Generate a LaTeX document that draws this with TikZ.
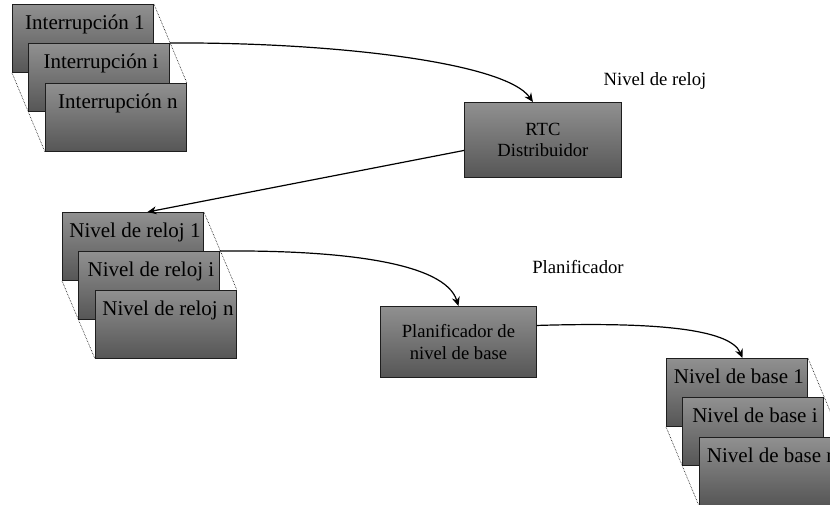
\documentclass[tikz,border=0pt]{standalone}
\usepackage{fontspec}
\setmainfont{Liberation Serif}
\usetikzlibrary{arrows.meta}

\definecolor{boxtop}{RGB}{144,144,144}
\definecolor{boxbot}{RGB}{86,86,86}
\definecolor{boxline}{RGB}{30,30,30}

\tikzset{
  graybox/.style={draw=boxline, line width=0.9pt, top color=boxtop, bottom color=boxbot,
    anchor=north west, inner sep=0pt},
  stackbox/.style={graybox, minimum width=141pt, minimum height=68pt},
  stacktext/.style={anchor=base, inner sep=0pt, font=\fontsize{21}{25}\selectfont},
  boxtext/.style={align=center, inner sep=0pt, font=\fontsize{18.6}{21.5}\selectfont},
  lvltext/.style={inner sep=0pt, font=\fontsize{18.7}{22}\selectfont},
  flow/.style={line width=1.2pt, -{Stealth[length=9pt,width=8pt,inset=3pt]}},
  edge/.style={densely dotted, line width=0.6pt},
}

% one card of a stack: gradient box plus its caption, clipped to the box
\newcommand{\stackcard}[4]{%
  \node[stackbox] (#1) at (#2,#3) {};
  \begin{scope}
    \clip (#1.south west) rectangle (#1.north east);
    \node[stacktext] (#1t) at ([xshift=2pt,yshift=-25pt]#1.north) {#4};
  \end{scope}}

\begin{document}
\begin{tikzpicture}[x=1pt,y=-1pt]
\useasboundingbox (0,0) rectangle (830,504);
\clip (0,0) rectangle (830,504);

% interrupt stack
\stackcard{i1}{12}{4}{Interrupción 1}
\stackcard{i2}{28}{43}{Interrupción i}
\stackcard{i3}{45}{83}{Interrupción n}
\draw[edge] (i1.south west) -- (i3.south west);
\draw[edge] (i1.north east) -- (i3.north east);

% clock-level dispatcher
\node[graybox, minimum width=157pt, minimum height=75pt, boxtext] (rtc) at (464,102)
  {RTC\\Distribuidor};
\node[lvltext] (lclk) at (655,81) {Nivel de reloj};

% clock-level stack
\stackcard{r1}{62}{212}{Nivel de reloj 1}
\stackcard{r2}{78}{251}{Nivel de reloj i}
\stackcard{r3}{95}{290}{Nivel de reloj n}
\draw[edge] (r1.south west) -- (r3.south west);
\draw[edge] (r1.north east) -- (r3.north east);

% base-level scheduler
\node[graybox, minimum width=156pt, minimum height=71pt, boxtext] (pl) at (380,306)
  {Planificador de\\nivel de base};
\node[lvltext] (lpl) at (578,267) {Planificador};

% base-level stack
\stackcard{b1}{666}{358}{Nivel de base 1}
\stackcard{b2}{682}{397}{Nivel de base i}
\stackcard{b3}{699}{437}{Nivel de base n}
\draw[edge] (b1.south west) -- (b3.south west);
\draw[edge] (b1.north east) -- (b3.north east);

% flows
\draw[flow] (i2.north east) .. controls (330,42) and (505,62) .. ([xshift=-10pt]rtc.north);
\draw[flow] ([yshift=-10.5pt]rtc.west) -- ([xshift=14.5pt]r1.north);
\draw[flow] (r2.north east) .. controls (340,250) and (445,262) .. (pl.north);
\draw[flow] ([yshift=16.5pt]pl.east) .. controls (650,322) and (730,328) .. ([xshift=5.5pt]b1.north);
\end{tikzpicture}
\end{document}
